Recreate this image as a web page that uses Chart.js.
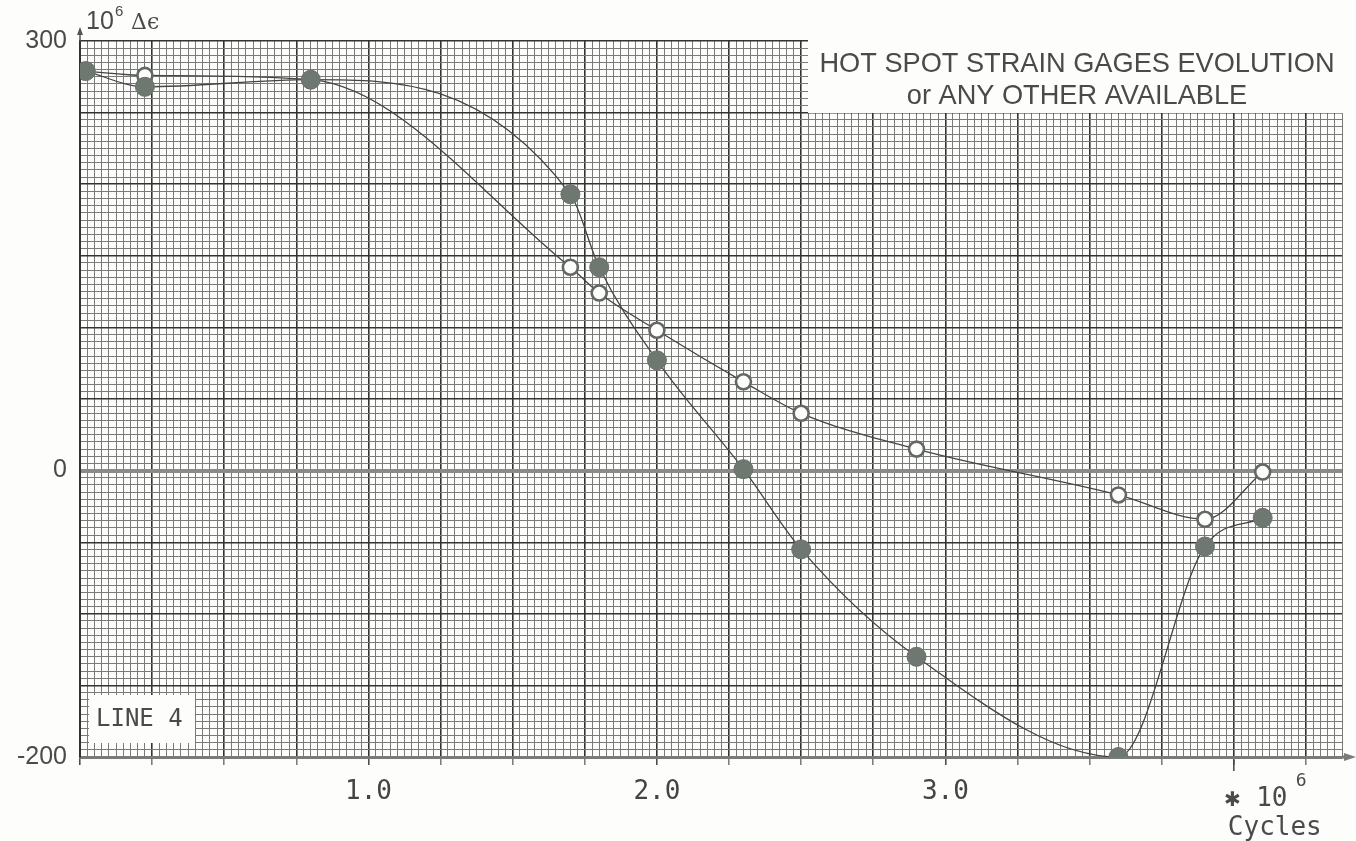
<!DOCTYPE html>
<html>
<head>
<meta charset="utf-8">
<title>Hot spot strain gages evolution - Line 4</title>
<script src="https://cdn.jsdelivr.net/npm/chart.js@4.4.1/dist/chart.umd.min.js"></script>
<style>
  html, body { margin: 0; padding: 0; background: #fdfdfb; }
  #wrap { width: 1356px; height: 841px; position: relative; }
</style>
</head>
<body>
<div id="wrap"><canvas id="chart" width="1356" height="841"></canvas></div>
<script>
// Cycles (x 10^6) at which each gage was read
const cyclesFilled = [0.02, 0.225, 0.80, 1.70, 1.80, 2.00, 2.30, 2.50, 2.90, 3.60, 3.90, 4.10];
const cyclesOpen   = [0.02, 0.225, 0.80, 1.70, 1.80, 2.00, 2.30, 2.50, 2.90, 3.60, 3.90, 4.10];

// Strain range (10^6 Δε) for the two gages
const strainFilled = [279, 268, 273, 193, 142, 77, 1, -55, -130, -200, -53, -33];
const strainOpen   = [279, 276, 273, 142, 124, 98, 62, 40, 15, -17, -34, -1];

// Labelled ticks on each axis
const xTickLabels = ['1.0', '2.0', '3.0'];
const xTickValues = [1, 2, 3];
const yTickValues = [-200, 0, 300];

// Text on the sheet
const titleLines = ['HOT SPOT STRAIN GAGES EVOLUTION', 'or ANY OTHER AVAILABLE'];
const lineTag = 'LINE 4';
const yUnit = ['10', '6', 'Δϵ'];
const xUnit = ['✱ 10', '6', 'Cycles'];

const toPoints = (xs, ys) => xs.map((x, i) => ({ x: x, y: ys[i] }));

const INK = '#454545';
const MINOR = '#7a7a7a';
const MAJOR = '#333333';

const near = (v, step) => Math.abs(v / step - Math.round(v / step)) < 1e-6;

// Graph paper overlays, labels and axis arrows
const sheetPlugin = {
  id: 'sheet',
  beforeDatasetsDraw(chart) {
    const ctx = chart.ctx;
    const area = chart.chartArea;
    ctx.save();
    // title panel cut into the grid, upper right
    const tx0 = 808, ty0 = area.top, tx1 = area.right, ty1 = 113;
    ctx.fillStyle = '#fdfdfb';
    ctx.fillRect(tx0, ty0 - 1, tx1 - tx0 + 1, ty1 - ty0 + 1);
    ctx.fillStyle = '#4a4a4a';
    ctx.textAlign = 'center';
    ctx.textBaseline = 'middle';
    const cx = (tx0 + tx1) / 2 + 2;
    ctx.font = '23px "Liberation Sans", Arial, sans-serif';
    const w0 = ctx.measureText(titleLines[0]).width;
    const size = 23 * 515 / w0;
    ctx.font = size.toFixed(1) + 'px "Liberation Sans", Arial, sans-serif';
    ctx.fillText(titleLines[0], cx, 65);
    ctx.fillText(titleLines[1], cx, 97);

    // line tag panel, lower left
    ctx.fillStyle = '#fdfdfb';
    ctx.fillRect(89, 695, 106, 48);
    ctx.fillStyle = '#4a4a4a';
    ctx.textAlign = 'left';
    ctx.font = '24px "DejaVu Sans Mono", "Liberation Mono", monospace';
    ctx.fillText(lineTag, 96, 720);
    ctx.restore();
  },
  afterDraw(chart) {
    const ctx = chart.ctx;
    const area = chart.chartArea;
    const xs = chart.scales.x;
    ctx.save();
    ctx.fillStyle = '#4a4a4a';
    ctx.strokeStyle = '#555';

    // y unit above the axis
    ctx.textBaseline = 'alphabetic';
    ctx.textAlign = 'left';
    ctx.font = '25px "Liberation Sans", Arial, sans-serif';
    ctx.fillText(yUnit[0], 86, 29);
    ctx.font = '15px "Liberation Sans", Arial, sans-serif';
    ctx.fillText(yUnit[1], 115, 16);
    ctx.font = '22px "DejaVu Serif", serif';
    ctx.fillText(yUnit[2], 131, 29);

    // arrow on the y axis
    ctx.lineWidth = 1.5;
    ctx.beginPath();
    ctx.moveTo(area.left, area.top);
    ctx.lineTo(area.left, area.top - 12);
    ctx.stroke();
    ctx.fillStyle = '#555';
    ctx.beginPath();
    ctx.moveTo(area.left, area.top - 14);
    ctx.lineTo(area.left - 3, area.top - 6);
    ctx.lineTo(area.left + 3, area.top - 6);
    ctx.closePath();
    ctx.fill();

    // arrow on the x axis
    ctx.strokeStyle = '#7a7a7a';
    ctx.lineWidth = 3;
    ctx.beginPath();
    ctx.moveTo(area.right, area.bottom);
    ctx.lineTo(1350, area.bottom);
    ctx.stroke();
    ctx.fillStyle = '#7a7a7a';
    ctx.beginPath();
    ctx.moveTo(1356, area.bottom);
    ctx.lineTo(1344, area.bottom - 4);
    ctx.lineTo(1344, area.bottom + 4);
    ctx.closePath();
    ctx.fill();

    // x unit at the 4.0 tick
    const x4 = xs.getPixelForValue(4);
    ctx.fillStyle = '#4a4a4a';
    ctx.strokeStyle = '#444';
    ctx.lineWidth = 1.5;
    ctx.beginPath();
    ctx.moveTo(x4, area.bottom + 3);
    ctx.lineTo(x4, area.bottom + 14);
    ctx.stroke();
    ctx.font = '26px "DejaVu Sans Mono", "Liberation Mono", monospace';
    ctx.textAlign = 'left';
    ctx.fillText(xUnit[0], x4 - 9, 806);
    ctx.font = '18px "DejaVu Sans Mono", "Liberation Mono", monospace';
    ctx.fillText(xUnit[1], x4 + 62, 786);
    ctx.font = '26px "DejaVu Sans Mono", "Liberation Mono", monospace';
    ctx.fillText(xUnit[2], x4 - 6, 835);
    ctx.restore();
  }
};

new Chart(document.getElementById('chart'), {
  type: 'scatter',
  data: {
    datasets: [
      {
        label: 'Gage A',
        data: toPoints(cyclesFilled, strainFilled),
        showLine: true,
        borderColor: INK,
        borderWidth: 1.3,
        cubicInterpolationMode: 'monotone',
        pointRadius: 9.5,
        pointBackgroundColor: '#6e7871',
        pointBorderColor: '#68726b',
        pointBorderWidth: 1
      },
      {
        label: 'Gage B',
        data: toPoints(cyclesOpen, strainOpen),
        showLine: true,
        borderColor: INK,
        borderWidth: 1.3,
        cubicInterpolationMode: 'monotone',
        pointRadius: 7.5,
        pointBackgroundColor: '#fdfdfb',
        pointBorderColor: '#626864',
        pointBorderWidth: 2.6
      }
    ]
  },
  options: {
    responsive: false,
    animation: false,
    layout: { padding: { top: 41, right: 14, left: 0, bottom: 0 } },
    plugins: {
      legend: { display: false },
      tooltip: { enabled: false }
    },
    scales: {
      x: {
        type: 'linear',
        min: 0,
        max: 4.375,
        afterFit(scale) { scale.height = 84; },
        border: { display: true, color: '#7a7a7a', width: 3 },
        grid: {
          color: (c) => near(c.tick.value, 0.25) ? MAJOR : MINOR,
          lineWidth: (c) => near(c.tick.value, 0.25) ? 1.6 : 1,
          drawTicks: true,
          tickLength: 8,
          tickColor: (c) => near(c.tick.value, 1) ? '#444' : (near(c.tick.value, 0.25) ? '#777' : 'rgba(0,0,0,0)'),
          tickWidth: 1.5
        },
        ticks: {
          stepSize: 0.025,
          autoSkip: false,
          maxRotation: 0,
          padding: 12,
          color: '#444',
          font: { family: '"DejaVu Sans Mono", "Liberation Mono", monospace', size: 26 },
          callback: (v) => {
            const i = xTickValues.findIndex((t) => Math.abs(t - v) < 1e-6);
            return i >= 0 ? xTickLabels[i] : '';
          }
        }
      },
      y: {
        type: 'linear',
        min: -200,
        max: 300,
        afterFit(scale) { scale.width = 80; },
        border: { display: true, color: '#333', width: 2 },
        grid: {
          color: (c) => c.tick.value === 0 ? '#8a8a8a' : (near(c.tick.value, 50) ? MAJOR : MINOR),
          lineWidth: (c) => c.tick.value === 0 ? 4 : (near(c.tick.value, 50) ? 1.4 : 1),
          drawTicks: false
        },
        ticks: {
          stepSize: 5,
          autoSkip: false,
          padding: 13,
          color: '#4a4a4a',
          font: { family: '"Liberation Sans", Arial, sans-serif', size: 25 },
          callback: (v) => yTickValues.includes(v) ? String(v) : ''
        }
      }
    }
  },
  plugins: [sheetPlugin]
});
</script>
</body>
</html>
